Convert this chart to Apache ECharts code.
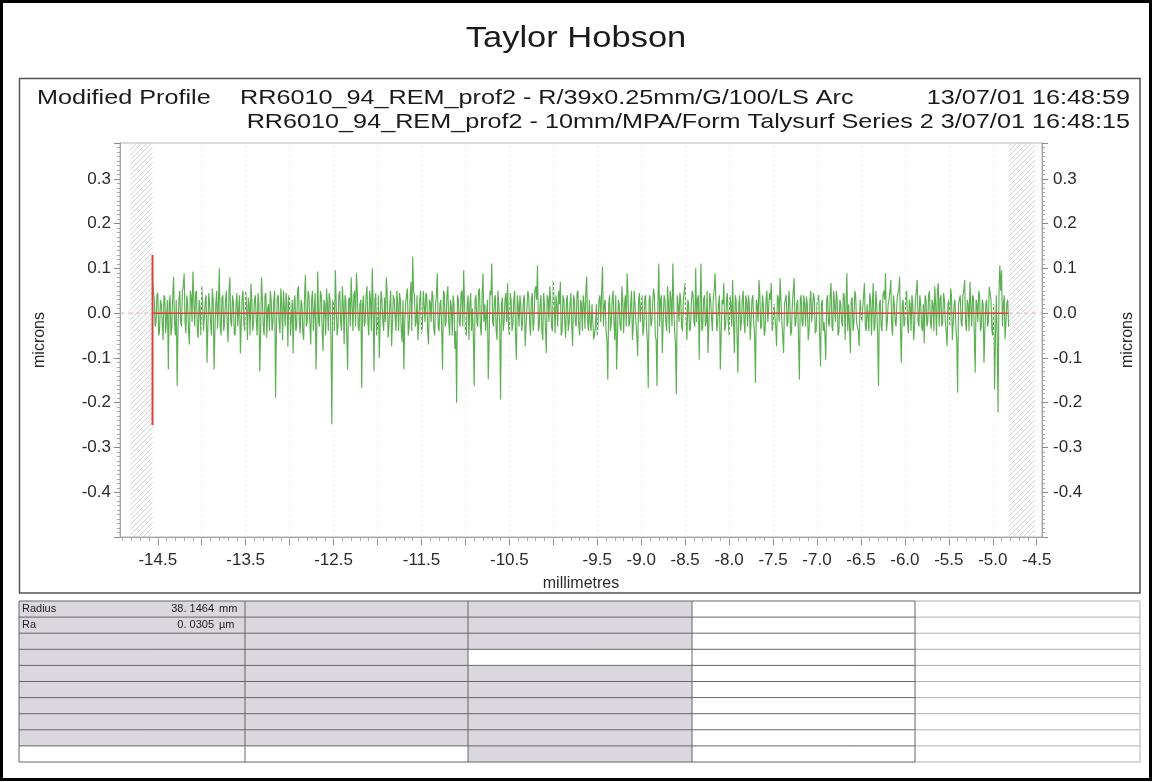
<!DOCTYPE html>
<html>
<head>
<meta charset="utf-8">
<script src="https://cdn.jsdelivr.net/npm/echarts@6/dist/echarts.min.js"></script>
<style>
html,body{margin:0;padding:0;background:#fff;}
#chart{width:1153px;height:782px;}
</style>
</head>
<body>
<div id="chart"></div>
<script>
// ---------- DATA ----------
const reportTitle = 'Taylor Hobson';
const headerLeft = 'Modified Profile';
const headerLine1 = 'RR6010_94_REM_prof2 - R/39x0.25mm/G/100/LS Arc';
const headerDate1 = '13/07/01 16:48:59';
const headerLine2 = 'RR6010_94_REM_prof2 - 10mm/MPA/Form Talysurf Series 2 3/07/01 16:48:15';
const xAxisName = 'millimetres';
const yAxisName = 'microns';

// profile sampling (mm): samples every 0.01 mm starting at profileStart
const profileStart = -14.56;
const profileStep = 0.01;
// profile heights (microns): samples 0,2,4,...
const profileEven = [
 0.07,0.03,-0.02,0.045,-0.04,0.02,-0.06,0.035,-0.01,-0.126,0.04,-0.03,0.081,-0.05,-0.163,0.03,-0.02,0.05,0.089,-0.045,
 0.02,-0.07,0.04,0.093,-0.03,0.05,-0.055,0.01,0.06,-0.04,0.03,-0.111,0.045,-0.02,0.055,-0.126,0.02,-0.035,0.1,-0.05,
 0.04,-0.02,0.05,-0.065,0.08,-0.03,0.025,-0.05,0.045,0.01,-0.09,0.035,-0.025,0.05,-0.06,0.02,0.066,-0.04,0.03,-0.015,
 0.045,-0.13,0.08,-0.03,0.04,-0.055,0.02,0.05,-0.04,0.03,-0.189,0.035,-0.02,0.055,-0.06,0.015,0.045,-0.075,0.03,-0.01,
 -0.09,0.04,-0.03,0.06,-0.045,0.02,-0.06,0.085,-0.02,0.04,-0.07,0.05,0.01,-0.126,0.093,-0.03,0.04,-0.085,0.02,0.055,
 -0.04,0.03,-0.248,0.02,0.096,-0.05,0.04,-0.02,0.06,-0.07,0.03,-0.126,0.035,0.08,-0.04,0.05,0.09,-0.03,0.02,-0.167,
 0.04,-0.02,0.06,-0.05,0.03,0.1,-0.13,0.045,-0.03,-0.1,0.05,-0.02,0.035,0.08,-0.055,0.02,-0.074,0.04,-0.01,0.05,
 -0.04,0.03,-0.065,-0.126,0.02,0.055,-0.03,0.07,0.126,0.04,-0.02,-0.06,0.03,-0.045,0.05,-0.02,0.04,-0.07,0.025,0.05,
 -0.035,0.02,0.089,-0.04,0.03,-0.126,0.045,-0.02,0.06,-0.05,0.015,0.04,-0.08,-0.2,0.03,-0.03,0.05,0.096,-0.04,0.02,
 -0.06,0.045,0.01,-0.163,0.04,-0.03,0.055,-0.05,0.089,0.02,-0.04,-0.148,0.05,0.111,-0.03,0.04,-0.06,0.02,-0.193,0.035,
 -0.02,0.045,0.067,-0.05,0.03,-0.025,0.05,-0.104,0.02,0.04,-0.04,0.03,-0.074,0.01,0.037,-0.05,0.045,-0.02,0.06,0.107,
 -0.03,0.04,-0.06,0.02,-0.089,0.035,0.06,-0.03,0.074,-0.045,0.02,0.05,0.07,-0.04,0.03,-0.055,0.04,-0.02,0.045,-0.074,
 0.03,-0.03,0.05,-0.05,0.02,0.04,-0.035,0.081,-0.04,-0.02,0.02,-0.059,-0.03,-0.05,0.03,-0.02,0.104,0.02,-0.04,-0.148,
 0.04,-0.02,0.05,-0.06,-0.126,0.03,-0.03,0.06,-0.045,0.04,0.089,-0.03,0.02,-0.06,0.05,-0.02,-0.096,0.045,0.02,-0.05,
 0.035,-0.03,-0.167,0.04,-0.02,0.055,-0.05,-0.163,0.111,0.03,-0.089,0.04,-0.02,0.06,-0.045,0.03,0.111,-0.04,-0.181,0.02,
 0.045,-0.03,0.03,0.067,-0.06,0.02,-0.035,0.05,-0.02,0.1,0.03,-0.104,0.111,-0.03,0.04,-0.02,-0.089,0.045,-0.01,0.03,
 0.089,-0.04,0.02,-0.126,0.03,0.067,-0.03,0.045,-0.05,0.02,0.074,-0.089,0.03,-0.133,0.04,-0.02,0.05,-0.045,0.025,0.04,
 -0.06,0.03,-0.02,-0.156,0.02,0.074,-0.035,0.04,-0.05,0.03,-0.02,0.045,0.067,-0.03,0.02,-0.074,0.035,0.078,-0.02,-0.089,
 0.03,-0.03,0.05,-0.05,0.02,0.078,-0.02,0.03,-0.148,0.04,-0.03,0.02,0.037,-0.06,0.03,-0.02,0.045,-0.045,0.02,0.04,
 -0.119,0.03,-0.02,-0.104,0.04,-0.03,0.067,-0.04,0.02,0.05,-0.05,0.03,-0.02,0.045,-0.06,0.089,0.02,-0.089,0.035,-0.02,
 0.04,-0.03,-0.074,0.03,-0.02,0.067,-0.04,0.02,0.045,-0.05,0.067,-0.03,0.02,-0.163,0.03,-0.04,0.05,0.089,-0.02,0.03,
 0.074,-0.05,0.02,-0.03,0.045,0.081,-0.111,0.03,-0.02,0.05,-0.045,0.02,0.04,-0.06,0.03,0.074,-0.03,0.02,-0.04,-0.067,
 0.03,-0.02,0.05,-0.035,0.02,0.06,-0.05,0.067,0.03,-0.03,0.045,-0.02,-0.074,0.03,0.055,-0.06,0.02,-0.03,-0.178,0.03,
 -0.02,0.04,0.074,-0.04,0.02,0.07,-0.03,0.035,-0.133,0.02,0.05,-0.04,0.03,-0.111,0.02,-0.03,0.059,0.03,-0.05,-0.17,
 0.04,-0.222,0.107,0.096,0.02,-0.059,0.022,-0.03
];
// profile heights (microns): samples 1,3,5,... (between the above)
const profileOdd = [
 0.05,-0.03,0.04,-0.05,0.03,-0.02,0.04,-0.045,0.03,0.02,-0.05,0.04,-0.02,0.03,-0.04,0.05,-0.03,0.06,-0.02,0.04,
 -0.04,0.05,-0.02,0.03,0.045,-0.04,0.03,-0.05,0.02,-0.01,0.04,-0.03,0.02,-0.05,0.03,-0.04,0.05,0.02,-0.03,0.035,
 -0.04,0.03,-0.03,0.05,-0.02,0.04,-0.045,0.02,-0.03,0.04,-0.02,0.05,-0.04,0.02,0.035,-0.05,0.03,-0.02,0.04,-0.05,
 0.02,-0.04,0.03,-0.05,0.045,0.01,-0.04,0.03,-0.02,0.05,-0.03,0.04,-0.045,0.02,0.05,-0.03,0.02,0.04,-0.05,0.03,
 0.02,-0.04,0.05,-0.02,0.03,-0.045,0.04,-0.03,0.05,-0.02,0.03,-0.04,0.045,-0.03,-0.02,0.05,-0.04,0.03,-0.05,0.02,
 0.045,-0.06,0.03,-0.04,0.02,-0.03,0.05,-0.04,0.02,0.04,-0.05,0.03,-0.03,0.02,0.04,-0.03,0.05,-0.04,0.03,0.02,
 -0.03,0.04,-0.02,0.05,-0.04,0.02,0.03,-0.05,0.04,-0.02,0.03,-0.04,-0.02,0.045,-0.03,0.05,-0.02,0.03,-0.04,0.02,
 0.045,-0.04,0.03,-0.02,0.04,-0.05,0.03,-0.04,0.05,-0.03,0.04,-0.02,0.05,-0.03,0.02,0.045,-0.04,0.03,-0.02,0.04,
 -0.05,0.04,-0.03,0.02,-0.04,0.05,-0.03,0.04,-0.02,0.03,-0.05,0.02,-0.04,0.04,-0.02,0.045,-0.03,0.02,-0.05,0.04,
 0.02,-0.04,-0.05,0.03,-0.02,0.05,-0.03,0.04,-0.02,-0.04,0.03,-0.06,0.04,-0.02,0.03,-0.04,0.05,-0.03,0.02,-0.04,
 0.03,-0.02,-0.03,0.045,-0.04,0.03,-0.05,0.04,-0.03,0.02,-0.02,0.04,-0.03,0.05,-0.02,0.03,-0.04,0.05,0.03,-0.04,
 0.02,-0.04,0.045,-0.03,0.04,-0.02,0.03,-0.04,0.02,0.04,-0.03,0.02,-0.05,0.04,-0.02,0.03,-0.04,0.02,-0.03,0.04,
 -0.02,0.045,-0.03,0.03,-0.04,0.02,0.05,-0.02,0.03,-0.04,0.02,-0.045,0.02,-0.02,0.04,0.05,-0.03,0.03,-0.06,0.02,
 -0.04,0.03,-0.02,0.04,-0.05,0.02,-0.04,0.03,0.02,-0.03,0.04,-0.02,0.05,-0.03,0.02,-0.05,0.03,-0.02,0.04,-0.03,
 0.04,-0.06,0.03,-0.03,0.02,0.04,-0.06,0.02,-0.03,0.04,-0.02,0.03,-0.04,0.02,0.05,-0.03,0.02,-0.07,0.04,-0.02,
 0.03,-0.04,0.05,-0.02,0.03,-0.04,0.02,0.04,-0.03,-0.02,0.04,0.02,-0.04,0.03,-0.03,0.05,-0.02,0.03,-0.04,0.05,
 0.03,-0.02,0.04,-0.05,0.02,-0.04,0.03,-0.02,0.04,-0.03,-0.02,0.04,-0.05,0.02,-0.04,0.03,-0.02,0.04,-0.03,0.02,
 -0.02,0.04,-0.05,0.03,-0.02,0.04,-0.03,0.02,-0.04,0.05,-0.02,0.03,-0.04,0.02,-0.03,0.04,-0.02,0.03,-0.05,0.02,
 0.04,-0.02,0.03,-0.04,0.05,-0.03,0.02,-0.06,0.03,-0.02,0.04,-0.03,0.02,-0.04,0.05,-0.02,0.03,-0.04,0.02,-0.05,
 0.02,-0.04,-0.05,0.03,-0.02,0.04,-0.03,0.05,-0.02,0.03,-0.04,0.02,-0.03,0.04,0.02,-0.04,-0.03,0.03,-0.04,0.05,
 -0.02,-0.04,0.03,-0.02,0.04,-0.03,0.02,-0.04,0.03,0.02,-0.04,0.05,-0.05,0.02,-0.03,0.04,0.03,-0.04,0.02,0.05,
 -0.03,0.04,-0.02,0.03,0.05,-0.04,0.02,-0.03,0.04,-0.02,0.03,-0.04,0.02,-0.03,0.05,-0.02,0.04,-0.03,0.02,0.04,
 -0.03,0.04,-0.02,0.03,-0.04,0.02,0.05,-0.03,0.04,-0.02,0.03,-0.04,0.02,-0.03,0.04,-0.02,0.03,-0.06,0.02,0.04,
 -0.03,0.05,-0.02,0.03,-0.04,0.02,0.04,-0.05,0.03,-0.02,0.04,-0.03,0.02,-0.04,0.03,-0.02,0.045,-0.04,0.02,-0.06,
 -0.05,0.04,0.05,-0.03,0.04,-0.02,0.03
];
// reference (mean) line and start marker
const meanLevel = 0;
const startMarker = [0.13, -0.25];
// excluded (hatched) zones, mm
const excludedZones = [[-14.81, -14.56], [-4.82, -4.52]];
// axis extents and ticks
const xMin = -14.93, xMax = -4.44;
const yMin = -0.5, yMax = 0.38;
const xLabelValues = [-14.5,-13.5,-12.5,-11.5,-10.5,-9.5,-9.0,-8.5,-8.0,-7.5,-7.0,-6.5,-6.0,-5.5,-5.0,-4.5];
const xMajorTicks = [-14.5,-14,-13.5,-13,-12.5,-12,-11.5,-11,-10.5,-10,-9.5,-9,-8.5,-8,-7.5,-7,-6.5,-6,-5.5,-5,-4.5];
const gridLinesX = [-14,-13.5,-13,-12.5,-12,-11.5,-11,-10.5,-10,-9.5,-9,-8.5,-8,-7.5,-7,-6.5,-6,-5.5,-5];
// results table
const tableLabels = ['Radius', 'Ra'];
const tableValues = ['38. 1464', '0. 0305'];
const tableUnits = ['mm', 'µm'];

// ---------- BUILD ----------
const profile = [];
profileEven.forEach((v, i) => {
  profile.push(v);
  if (i < profileOdd.length) profile.push(profileOdd[i]);
});
const profileData = profile.map((v, i) => [profileStart + i * profileStep, v]);
const profileEnd = profileStart + (profile.length - 1) * profileStep;
const xMinorTicks = [];
for (let k = -149; k <= -45; k++) xMinorTicks.push(k / 10);

const FONT = '"Liberation Sans", Arial, sans-serif';

// hatch pattern
const pat = document.createElement('canvas');
pat.width = 5; pat.height = 5;
const pc = pat.getContext('2d');
pc.strokeStyle = '#d2d2de';
pc.lineWidth = 1;
pc.beginPath();
pc.moveTo(-1, 6); pc.lineTo(6, -1);
pc.moveTo(-4, 4); pc.lineTo(4, -4);
pc.moveTo(1, 9); pc.lineTo(9, 1);
pc.stroke();

// table graphics
const tX = [19, 245, 468, 692, 915, 1140];
const tTop = 601, tRowH = 16.1, tRows = 10;
const shade = '#dbd7df';
const g = [];
g.push({type:'rect', shape:{x:1.5,y:1.5,width:1149,height:778}, style:{fill:null, stroke:'#000', lineWidth:3}, silent:true});
g.push({type:'rect', shape:{x:19.5,y:78.5,width:1120.5,height:514.5}, style:{fill:null, stroke:'#555', lineWidth:1.5}, silent:true});
g.push({type:'rect', shape:{x:tX[0],y:tTop,width:tX[1]-tX[0],height:tRowH*9}, style:{fill:shade}, silent:true});
g.push({type:'rect', shape:{x:tX[1],y:tTop,width:tX[2]-tX[1],height:tRowH*9}, style:{fill:shade}, silent:true});
g.push({type:'rect', shape:{x:tX[2],y:tTop,width:tX[3]-tX[2],height:tRowH*3}, style:{fill:shade}, silent:true});
g.push({type:'rect', shape:{x:tX[2],y:tTop+tRowH*4,width:tX[3]-tX[2],height:tRowH*6}, style:{fill:shade}, silent:true});
for (let r = 0; r <= tRows; r++) {
  const y = tTop + r * tRowH;
  g.push({type:'line', shape:{x1:tX[0],y1:y,x2:tX[4],y2:y}, style:{stroke:'#666', lineWidth:1}, silent:true});
  g.push({type:'line', shape:{x1:tX[4],y1:y,x2:tX[5],y2:y}, style:{stroke:'#b0b0b0', lineWidth:1}, silent:true});
}
for (let c = 0; c < tX.length; c++) {
  g.push({type:'line', shape:{x1:tX[c],y1:tTop,x2:tX[c],y2:tTop+tRowH*tRows}, style:{stroke:c===5?'#b0b0b0':'#666', lineWidth:1}, silent:true});
}
tableLabels.forEach((lab, i) => {
  const y = tTop + tRowH * (i + 0.5);
  g.push({type:'text', x:22, y:y, style:{text:lab, font:'11px '+FONT, fill:'#222', textAlign:'left', textVerticalAlign:'middle'}, silent:true});
  g.push({type:'text', x:214, y:y, style:{text:tableValues[i], font:'11px '+FONT, fill:'#222', textAlign:'right', textVerticalAlign:'middle'}, silent:true});
  g.push({type:'text', x:219, y:y, style:{text:tableUnits[i], font:'11px '+FONT, fill:'#222', textAlign:'left', textVerticalAlign:'middle'}, silent:true});
});
// header texts (the scanned report is slightly stretched horizontally)
const HS = 1.2;
g.push({type:'text', x:576, y:39, scaleX:1.15, style:{text:reportTitle, font:'30px '+FONT, fill:'#1a1a1a', textAlign:'center', textVerticalAlign:'middle'}, silent:true});
g.push({type:'text', x:37, y:98, scaleX:HS, style:{text:headerLeft, font:'21px '+FONT, fill:'#1a1a1a', textAlign:'left', textVerticalAlign:'middle'}, silent:true});
g.push({type:'text', x:240, y:98, scaleX:HS, style:{text:headerLine1, font:'21px '+FONT, fill:'#1a1a1a', textAlign:'left', textVerticalAlign:'middle'}, silent:true});
g.push({type:'text', x:1130, y:98, scaleX:HS, style:{text:headerDate1, font:'21px '+FONT, fill:'#1a1a1a', textAlign:'right', textVerticalAlign:'middle'}, silent:true});
g.push({type:'text', x:1130, y:122, scaleX:HS, style:{text:headerLine2, font:'21px '+FONT, fill:'#1a1a1a', textAlign:'right', textVerticalAlign:'middle'}, silent:true});

const chart = echarts.init(document.getElementById('chart'), null, {renderer:'canvas'});
const yAxisCommon = {
  type:'value', min:yMin, max:yMax, interval:0.1,
  axisLine:{show:true, lineStyle:{color:'#a0a0a0'}},
  axisTick:{show:true, length:6, lineStyle:{color:'#8a8a8a'}},
  minorTick:{show:true, splitNumber:10, length:3, lineStyle:{color:'#a8a8a8'}},
  splitLine:{show:false},
  axisLabel:{showMinLabel:false, showMaxLabel:false, fontSize:17, fontFamily:FONT, color:'#2a2a2a',
    formatter:v => v.toFixed(1)},
  name:yAxisName, nameLocation:'middle', nameRotate:90,
  nameTextStyle:{fontSize:16, fontFamily:FONT, color:'#2a2a2a'}
};
const option = {
  animation:false,
  backgroundColor:'#fff',
  grid:{left:120, right:111, top:143, bottom:245, show:true, borderColor:'#b4b4b4', borderWidth:1},
  xAxis:[{
    type:'value', min:xMin, max:xMax,
    axisLine:{show:true, onZero:false, lineStyle:{color:'#a0a0a0'}},
    axisTick:{show:true, length:8, customValues:xMajorTicks, lineStyle:{color:'#8a8a8a'}},
    axisLabel:{customValues:xLabelValues, fontSize:17, fontFamily:FONT, color:'#2a2a2a', margin:15,
      formatter:v => v.toFixed(1)},
    splitLine:{show:false},
    name:xAxisName, nameLocation:'middle', nameGap:39,
    nameTextStyle:{fontSize:16, fontFamily:FONT, color:'#2a2a2a'}
  },{
    type:'value', min:xMin, max:xMax, position:'bottom',
    axisLine:{show:false, onZero:false},
    axisTick:{show:true, length:4, customValues:xMinorTicks, lineStyle:{color:'#a8a8a8'}},
    axisLabel:{show:false}, splitLine:{show:false}
  }],
  yAxis:[
    Object.assign({}, yAxisCommon, {position:'left', nameGap:72, axisLabel:Object.assign({}, yAxisCommon.axisLabel, {margin:9})}),
    Object.assign({}, yAxisCommon, {position:'right', nameGap:78, axisLabel:Object.assign({}, yAxisCommon.axisLabel, {margin:11})})
  ],
  graphic:g,
  series:[
    {
      name:'zero', type:'line', xAxisIndex:0, yAxisIndex:0, z:1,
      data:[[xMin, meanLevel],[xMax, meanLevel]],
      showSymbol:false, silent:true,
      lineStyle:{color:'#d9b0b0', width:1, type:[4,4]},
      markArea:{silent:true, itemStyle:{color:{image:pat, repeat:'repeat'}},
        data:excludedZones.map(z => [{xAxis:z[0]},{xAxis:z[1]}])},
      markLine:{silent:true, symbol:'none', label:{show:false},
        lineStyle:{color:'#ededed', type:[2,3], width:1},
        data:gridLinesX.map(v => ({xAxis:v}))}
    },
    {
      name:'profile', type:'line', xAxisIndex:0, yAxisIndex:0, z:3,
      data:profileData, showSymbol:false, sampling:null,
      lineStyle:{color:'#5cb052', width:1.15}
    },
    {
      name:'mean', type:'line', xAxisIndex:0, yAxisIndex:0, z:4,
      data:[[profileStart, meanLevel],[profileEnd, meanLevel]],
      showSymbol:false, lineStyle:{color:'#d9443a', width:1.5}
    },
    {
      name:'start', type:'line', xAxisIndex:0, yAxisIndex:0, z:4,
      data:[[profileStart, startMarker[0]],[profileStart, startMarker[1]]],
      showSymbol:false, lineStyle:{color:'#d9443a', width:2}
    }
  ]
};
chart.setOption(option);
</script>
</body>
</html>
